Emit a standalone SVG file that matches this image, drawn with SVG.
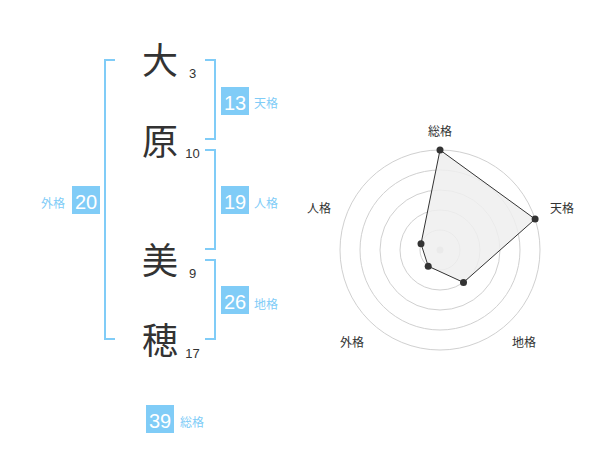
<svg xmlns="http://www.w3.org/2000/svg" width="600" height="470" viewBox="0 0 600 470">
<style>
.br{fill:none;stroke:#80ccf7;stroke-width:2}
.box{fill:#80ccf7}
.num{font-family:"Liberation Sans",Arial,sans-serif;font-size:20px;fill:#fff;text-anchor:middle}
.lbl{font-family:"Noto Sans CJK JP","Noto Sans",sans-serif;font-size:12px;fill:#80ccf7}
.kj{font-family:"Noto Sans CJK JP",sans-serif;font-size:36px;fill:#333;text-anchor:middle}
.st{font-family:"Liberation Sans",Arial,sans-serif;font-size:13px;fill:#333;text-anchor:middle}
.ring{fill:none;stroke:#d0d0d0;stroke-width:1}
.rl{font-family:"Noto Sans CJK JP","Noto Sans",sans-serif;font-size:12px;fill:#333;text-anchor:middle}
.dot{fill:#333}
</style>
<rect width="600" height="470" fill="#fff"/>
<g id="connectors">
<path class="br" d="M115,60 H105 V339 H115"/>
<path class="br" d="M205,60 H215 V139 H205"/>
<path class="br" d="M205,150 H215 V249 H205"/>
<path class="br" d="M205,260 H215 V339 H205"/>
</g>
<g id="char1"><text class="kj" x="160" y="74">大</text><text class="st" x="192.5" y="78">3</text></g>
<g id="char2"><text class="kj" x="160" y="155">原</text><text class="st" x="192.5" y="158">10</text></g>
<g id="char3"><text class="kj" x="160" y="274">美</text><text class="st" x="192.5" y="278">9</text></g>
<g id="char4"><text class="kj" x="160" y="354">穂</text><text class="st" x="192.5" y="358">17</text></g>
<g id="tenkaku"><rect class="box" x="221" y="87" width="28" height="28"/><text class="num" x="235" y="110">13</text><text class="lbl" x="254" y="108">天格</text></g>
<g id="jinkaku"><rect class="box" x="221" y="186" width="28" height="28"/><text class="num" x="235" y="209">19</text><text class="lbl" x="254" y="208">人格</text></g>
<g id="chikaku"><rect class="box" x="221" y="286" width="28" height="28"/><text class="num" x="235" y="309">26</text><text class="lbl" x="254" y="308.5">地格</text></g>
<g id="gaikaku"><rect class="box" x="72" y="186" width="28" height="28"/><text class="num" x="86" y="209">20</text><text class="lbl" x="41" y="208">外格</text></g>
<g id="soukaku"><rect class="box" x="146" y="405" width="28" height="28"/><text class="num" x="160" y="428">39</text><text class="lbl" x="180" y="427">総格</text></g>
<g id="radar">
<circle class="ring" cx="440" cy="250" r="20"/>
<circle class="ring" cx="440" cy="250" r="40"/>
<circle class="ring" cx="440" cy="250" r="60"/>
<circle class="ring" cx="440" cy="250" r="80"/>
<circle class="ring" cx="440" cy="250" r="100"/>
<circle cx="440" cy="250" r="3.5" fill="#ccc"/>
<polygon points="440,150 535.1,219.1 463.5,282.4 428.2,266.2 421,243.8" fill="#efefef" fill-opacity="0.85" stroke="#333" stroke-width="1"/>
<circle class="dot" cx="440" cy="150" r="3.5"/>
<circle class="dot" cx="535.1" cy="219.1" r="3.5"/>
<circle class="dot" cx="463.5" cy="282.4" r="3.5"/>
<circle class="dot" cx="428.2" cy="266.2" r="3.5"/>
<circle class="dot" cx="421" cy="243.8" r="3.5"/>
<text class="rl" x="440" y="136">総格</text>
<text class="rl" x="562" y="213">天格</text>
<text class="rl" x="524" y="347">地格</text>
<text class="rl" x="352" y="347">外格</text>
<text class="rl" x="319" y="213">人格</text>
</g>
</svg>
